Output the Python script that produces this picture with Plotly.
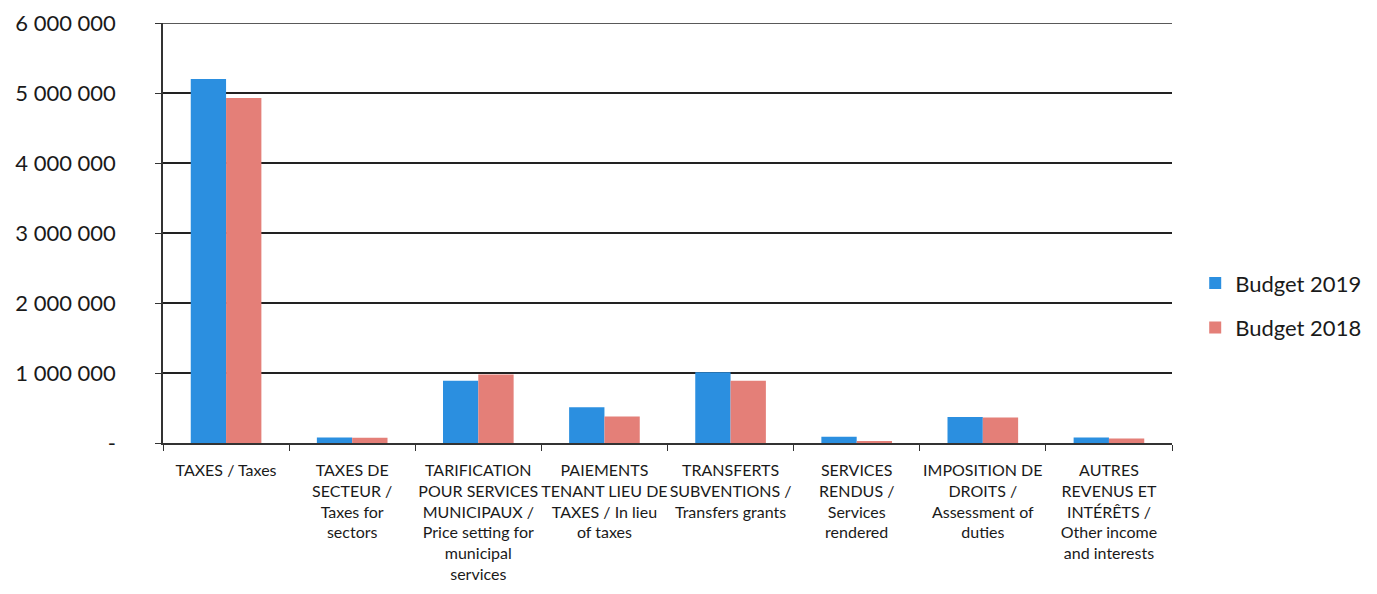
import plotly.graph_objects as go

categories = [
    "TAXES / Taxes",
    "TAXES DE<br>SECTEUR /<br>Taxes for<br>sectors",
    "TARIFICATION<br>POUR SERVICES<br>MUNICIPAUX /<br>Price setting for<br>municipal<br>services",
    "PAIEMENTS<br>TENANT LIEU DE<br>TAXES / In lieu<br>of taxes",
    "TRANSFERTS<br>SUBVENTIONS /<br>Transfers grants",
    "SERVICES<br>RENDUS /<br>Services<br>rendered",
    "IMPOSITION DE<br>DROITS /<br>Assessment of<br>duties",
    "AUTRES<br>REVENUS ET<br>INTÉRÊTS /<br>Other income<br>and interests",
]
budget_2019 = [5200000, 80000, 890000, 510000, 1010000, 90000, 370000, 80000]
budget_2018 = [4930000, 75000, 980000, 380000, 890000, 30000, 365000, 65000]

y_tickvals = [0, 1000000, 2000000, 3000000, 4000000, 5000000, 6000000]
y_ticktext = ["-", "1 000 000", "2 000 000", "3 000 000", "4 000 000", "5 000 000", "6 000 000"]

FONT = "Lato, 'Open Sans', sans-serif"

fig = go.Figure()
fig.add_trace(go.Bar(name="Budget 2019", x=categories, y=budget_2019, legendgroup="a",
                     marker=dict(color="#2B8FE0", line=dict(width=0))))
fig.add_trace(go.Bar(name="Budget 2018", x=categories, y=budget_2018, legendgroup="b",
                     marker=dict(color="#E47F78", line=dict(width=0))))

# top gridline (plotly skips gridlines lying on the range edge)
fig.add_shape(type="line", xref="paper", yref="y", x0=0, x1=1,
              y0=y_tickvals[-1], y1=y_tickvals[-1],
              line=dict(color="#222222", width=1.5), layer="below")

fig.update_layout(
    width=1377, height=594,
    barmode="group", bargap=0.44, bargroupgap=0,
    plot_bgcolor="white", paper_bgcolor="white",
    margin=dict(l=155, r=213, t=15, b=159),
    font=dict(family=FONT, color="#1a1a1a"),
    legend=dict(x=1.023, y=0.327, xanchor="left", yanchor="middle",
                font=dict(size=22, family=FONT), itemwidth=30,
                tracegroupgap=13),
    showlegend=True,
)
fig.update_xaxes(
    automargin=False,
    showline=True, linecolor="#333333", linewidth=1.5,
    ticks="outside", tickson="boundaries", ticklen=6, tickcolor="#333333",
    tickfont=dict(size=16, family=FONT), tickangle=0, ticklabelstandoff=12,
    showgrid=False,
)
fig.update_yaxes(
    automargin=False,
    range=[0, 6000000], tickvals=y_tickvals, ticktext=y_ticktext,
    showline=True, linecolor="#333333", linewidth=1.5,
    ticks="outside", ticklen=6, tickcolor="#333333",
    tickfont=dict(size=22, family=FONT), ticklabelstandoff=35,
    ticklabeloverflow="allow",
    showgrid=True, gridcolor="#222222", gridwidth=1.5,
    zeroline=False,
)

fig.write_html("out.html")
